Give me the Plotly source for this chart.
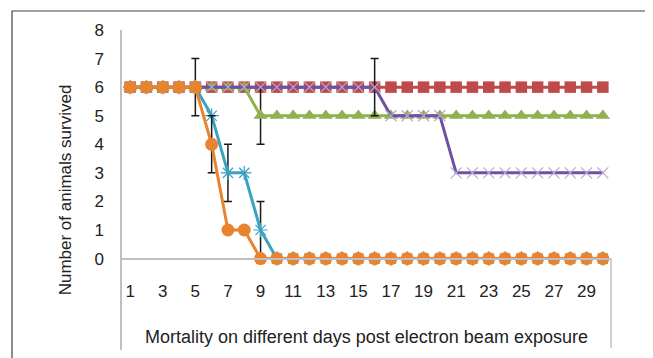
import numpy as np
import plotly.graph_objects as go

days = list(range(1, 31))
tick_days = days[::2]

red_vals = [6] * 30
green_vals = [6] * 8 + [5] * 22
purple_vals = [6] * 16 + [5] * 4 + [3] * 10
teal_vals = [6, 6, 6, 6, 6, 5, 3, 3, 1] + [0] * 21
orange_vals = [6, 6, 6, 6, 6, 4, 1, 1] + [0] * 22

nan = np.nan
green_err = np.full(30, nan); green_err[8] = 1
purple_err = np.full(30, nan); purple_err[15] = 1
teal_err = np.full(30, nan); teal_err[4] = 1; teal_err[6] = 1; teal_err[8] = 1
orange_err = np.full(30, nan); orange_err[5] = 1

y_ticks = list(range(0, 9))

FONT = "Liberation Sans, Arial, sans-serif"

def err(a):
    return dict(type="data", array=a, visible=True, color="#1a1a1a", thickness=1.5, width=4)

fig = go.Figure()
fig.add_trace(go.Scatter(x=days, y=red_vals, mode="lines+markers",
                         line=dict(color="#BE4B48", width=3),
                         marker=dict(symbol="square", size=11.5, color="#BE4B48")))
fig.add_trace(go.Scatter(x=days, y=green_vals, mode="lines+markers",
                         line=dict(color="#8FB24F", width=3),
                         marker=dict(symbol="triangle-up", size=12.5, color="#8FB24F"),
                         error_y=err(green_err)))
fig.add_trace(go.Scatter(x=days, y=purple_vals, mode="lines+markers",
                         line=dict(color="#7050A0", width=3),
                         marker=dict(symbol="x-thin", size=11,
                                     line=dict(color="#B7A8D3", width=1.2)),
                         error_y=err(purple_err)))
fig.add_trace(go.Scatter(x=days, y=teal_vals, mode="lines+markers",
                         line=dict(color="#3BA2C2", width=3),
                         marker=dict(symbol="asterisk-open", size=12,
                                     line=dict(color="#93D3E8", width=1.2)),
                         error_y=err(teal_err)))
fig.add_trace(go.Scatter(x=days, y=orange_vals, mode="lines+markers",
                         line=dict(color="#E8832F", width=3),
                         marker=dict(symbol="circle", size=13, color="#E8832F"),
                         error_y=err(orange_err)))

ymin, ymax = -3.2, 8.0
fig.update_layout(
    width=645, height=350,
    margin=dict(l=114, r=42, t=22, b=8),
    paper_bgcolor="white", plot_bgcolor="white",
    showlegend=False,
    font=dict(family=FONT, color="#222222", size=17),
    xaxis=dict(range=[0.5, 30.5], tickmode="array", tickvals=tick_days,
               ticktext=[str(d) for d in tick_days],
               anchor="free", position=(0 - ymin) / (ymax - ymin),
               showline=True, linecolor="#BFBFBF", linewidth=1.5,
               showgrid=False, zeroline=False, ticks="",
               ticklabelstandoff=17,
               tickfont=dict(size=17, color="#222222"),
               title=dict(text="Mortality on different days post electron beam exposure",
                          font=dict(size=18, color="#222222"), standoff=30)),
    yaxis=dict(range=[ymin, ymax], tickmode="array", tickvals=y_ticks,
               showline=True, linecolor="#BFBFBF", linewidth=1.5,
               showgrid=False, zeroline=False, ticks="",
               ticklabelstandoff=13,
               tickfont=dict(size=17, color="#222222"),
               title=dict(text="Number of animals survived",
                          font=dict(size=17, color="#222222"), standoff=18)),
    shapes=[
        dict(type="line", xref="paper", yref="y", x0=1, x1=1, y0=0, y1=-3.12,
             line=dict(color="#BFBFBF", width=1.5)),
        dict(type="path", xref="paper", yref="paper",
             path="M -0.2249,-0.05 L -0.2249,1.0594 L 1.2,1.0594",
             line=dict(color="#444444", width=1.2)),
    ],
)

fig.write_html("out.html")
